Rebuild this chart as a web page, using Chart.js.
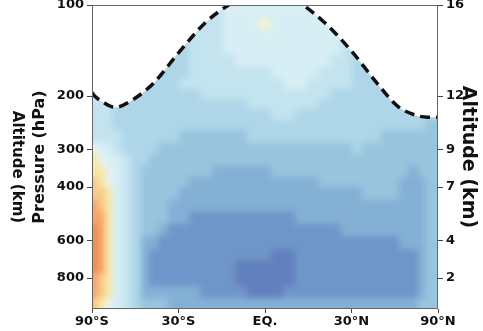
<!DOCTYPE html>
<html>
<head>
<meta charset="utf-8">
<script src="https://cdn.jsdelivr.net/npm/chart.js@4.4.1/dist/chart.umd.min.js"></script>
<style>
  html, body { margin: 0; padding: 0; background: #fff; }
</style>
</head>
<body>
<canvas id="chart" width="483" height="331"></canvas>
<script>
// cell edges of the field: latitude (deg) and pressure (hPa)
const latEdges = [-90, -75, -68, -62, -56, -51, -46, -42, -38, -34, -30, -26, -22, -18, -14, -10, -6, -2,
                  2, 6, 10, 14, 18, 22, 26, 30, 34, 38, 42, 46, 51, 56, 62, 68, 75, 90];
const pressureEdges = [100, 110, 120, 132, 145, 160, 175, 190, 205, 220, 240, 260, 285, 310, 340,
                       370, 400, 440, 480, 530, 580, 640, 700, 770, 850, 930, 1013];

// contour level of each cell, one string per pressure row (top to bottom)
const levelRows = [
  '77777 77777 77765 55555 55577 77777 77777',
  '77777 77777 77665 55Y55 55556 77777 77777',
  '77777 77777 76665 55555 55556 77777 77777',
  '77777 77777 76665 55555 55556 77777 77777',
  '77777 77777 76666 55555 55566 77777 77777',
  '77777 77777 76666 66655 55666 77777 77777',
  '77777 77777 66666 66665 56666 77777 77777',
  '66677 77777 77666 66666 66677 77777 77777',
  '66677 77777 77777 76666 66777 77777 77777',
  '66677 77777 77777 77766 77777 77777 77777',
  '66677 77777 77777 77777 77777 77777 77788',
  '66667 77777 88888 87777 77777 77788 88888',
  '45567 77788 88888 88888 88888 78888 88888',
  '34556 77888 88888 88888 88888 88888 88888',
  '33456 78888 88899 99988 88888 88888 89888',
  '23456 78888 89999 99999 99888 88888 99988',
  '22356 78888 99999 99999 99999 98888 99988',
  '12356 78889 99999 99999 99999 99999 99988',
  '11356 78889 9AAAA AAAAA 99999 99999 99988',
  '01356 7889A AAAAA AAAAA AAAA9 99999 99988',
  '01356 799AA AAAAA AAAAA AAAAA AAAAA 99988',
  '01356 79AAA AAAAA AAABB AAAAA AAAAA AA988',
  '01356 79AAA AAAAA BBBBB AAAAA AAAAA AA988',
  '12356 79AAA AAAAA BBBBB AAAAA AAAAA AA988',
  '12356 79999 99AAA ABBBA AAAAA AAAAA AA988',
  '23456 78889 99999 99999 99999 99999 99888'
];

// tropopause pressure (hPa) by latitude
const tropLat = [-90, -80, -70, -60, -50, -40, -30, -20, -10, 0, 10, 20, 30, 40, 50, 60, 70, 80, 90];
const tropP = [195, 200, 209, 218, 206, 181, 144, 114, 97, 86, 96, 114, 142, 180, 216, 231, 235, 235, 235];

const latTicks = [-90, -30, 0, 30, 90];
const latTickLabels = ['90°S', '30°S', 'EQ.', '30°N', '90°N'];
const pressureTicks = [100, 200, 300, 400, 600, 800];
const altTickLabels = ['16', '12', '9', '7', '4', '2'];
const sideLabel = 'Altitude (km)';

const levelColors = {
  '0': '#f08a55', '1': '#f5a66a', '2': '#f8c98a', '3': '#f9e8a2', '4': '#e6f3ef',
  'Y': '#eef4d0', '5': '#d7eef5', '6': '#c3e4ef', '7': '#aed6e8', '8': '#98c4de',
  '9': '#84b0d5', 'A': '#6f96c8', 'B': '#6280be'
};

const sinLat = d => Math.sin(d * Math.PI / 180);
const boldFont = size => ({ family: 'DejaVu Sans', weight: 'bold', size: size });

// paint the gridded field under the datasets, softened a little like the contour plot
const heatmap = {
  id: 'heatmap',
  beforeDatasetsDraw(chart) {
    const { ctx, chartArea: a, scales: { x, y } } = chart;
    const off = document.createElement('canvas');
    off.width = chart.width;
    off.height = chart.height;
    const oc = off.getContext('2d');
    levelRows.forEach((row, i) => {
      const cells = row.replace(/ /g, '');
      const y0 = Math.round(y.getPixelForValue(pressureEdges[i]));
      const y1 = Math.round(y.getPixelForValue(pressureEdges[i + 1]));
      for (let j = 0; j < cells.length; j++) {
        const x0 = Math.round(x.getPixelForValue(sinLat(latEdges[j])));
        const x1 = Math.round(x.getPixelForValue(sinLat(latEdges[j + 1])));
        oc.fillStyle = levelColors[cells[j]];
        oc.fillRect(x0, y0, x1 - x0, y1 - y0);
      }
    });
    ctx.save();
    ctx.beginPath();
    ctx.rect(a.left, a.top, a.width, a.height);
    ctx.clip();
    ctx.drawImage(off, 0, 0);
    ctx.filter = 'blur(3px)';
    ctx.drawImage(off, 0, 0);
    ctx.restore();
  }
};

const frame = {
  id: 'frame',
  afterDraw(chart) {
    const { ctx, chartArea: a } = chart;
    ctx.save();
    ctx.strokeStyle = '#666';
    ctx.lineWidth = 1;
    ctx.strokeRect(a.left + 0.5, a.top + 0.5, a.width - 1, a.height - 1);
    ctx.fillStyle = '#111';
    ctx.font = 'bold 15px "DejaVu Sans"';
    ctx.textAlign = 'center';
    ctx.textBaseline = 'middle';
    ctx.translate(17, 167);
    ctx.rotate(Math.PI / 2);
    ctx.fillText(sideLabel, 0, 0);
    ctx.restore();
  }
};

function pressureAxis(position, labels, width, title, titleSize, titlePad) {
  return {
    type: 'logarithmic',
    position: position,
    reverse: true,
    min: 100,
    max: 1013,
    afterBuildTicks: s => { s.ticks = pressureTicks.map(v => ({ value: v })); },
    afterFit: s => { s.width = width; s.paddingTop = 0; s.paddingBottom = 0; },
    grid: { drawOnChartArea: false, drawTicks: true, tickLength: 5, color: '#444' },
    border: { display: false },
    ticks: { padding: 3, color: '#111', font: boldFont(13), autoSkip: false, callback: (v, i) => labels[i] },
    title: { display: true, text: title, color: '#111', font: boldFont(titleSize), padding: { top: titlePad, bottom: 0 } }
  };
}

new Chart(document.getElementById('chart'), {
  type: 'line',
  data: {
    datasets: [{
      data: tropLat.map((d, i) => ({ x: sinLat(d), y: tropP[i] })),
      borderColor: '#111',
      borderWidth: 3.5,
      borderDash: [10, 6],
      pointRadius: 0,
      cubicInterpolationMode: 'monotone',
      fill: { value: 50 },
      backgroundColor: '#ffffff',
      yAxisID: 'y'
    }]
  },
  options: {
    responsive: false,
    animation: false,
    events: [],
    layout: { padding: { top: 5, left: 0, right: 0, bottom: 0 } },
    plugins: { legend: { display: false }, tooltip: { enabled: false } },
    scales: {
      x: {
        type: 'linear',
        min: -1,
        max: 1,
        afterBuildTicks: s => { s.ticks = latTicks.map(d => ({ value: sinLat(d) })); },
        afterFit: s => { s.height = 22; s.paddingLeft = 0; s.paddingRight = 0; },
        grid: { drawOnChartArea: false, drawTicks: true, tickLength: 4, color: '#444' },
        border: { display: false },
        ticks: { padding: 1, color: '#111', font: boldFont(13), maxRotation: 0, autoSkip: false,
                 callback: (v, i) => latTickLabels[i] }
      },
      y: pressureAxis('left', pressureTicks.map(String), 92, 'Pressure (hPa)', 16, 30),
      y2: pressureAxis('right', altTickLabels, 45, 'Altitude (km)', 19, 4)
    }
  },
  plugins: [heatmap, frame]
});
</script>
</body>
</html>
